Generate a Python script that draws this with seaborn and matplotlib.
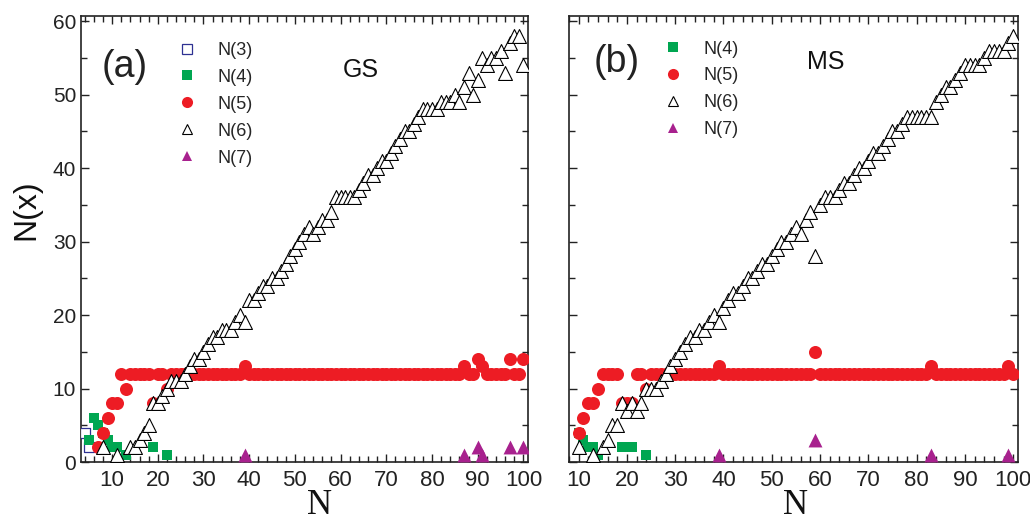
import matplotlib
matplotlib.use("Agg")
import matplotlib.pyplot as plt
import seaborn as sns
import pandas as pd
from matplotlib.ticker import MultipleLocator
from matplotlib.lines import Line2D

# ---------------- GS (ground state) ----------------
gs_n3_N = [4, 5]
gs_n3 = [4, 2]

gs_n4_N = [5, 6, 7, 8, 9, 10, 11, 13, 19, 22]
gs_n4 = [3, 6, 5, 4, 3, 2, 2, 1, 2, 1]

gs_n5_N = list(range(7, 101))
gs_n5 = [2, 4, 6, 8,
         8, 12, 10, 12, 12, 12, 12, 12, 8, 12,
         12, 10, 12, 12, 12, 12, 12, 12, 12, 12,
         12, 12, 12, 12, 12, 12, 12, 12, 13, 12,
         12, 12, 12, 12, 12, 12, 12, 12, 12, 12,
         12, 12, 12, 12, 12, 12, 12, 12, 12, 12,
         12, 12, 12, 12, 12, 12, 12, 12, 12, 12,
         12, 12, 12, 12, 12, 12, 12, 12, 12, 12,
         12, 12, 12, 12, 12, 12, 13, 12, 12, 14,
         13, 12, 12, 12, 12, 12, 14, 12, 12, 14]

gs_n6_N = [8, 11, 14, 15, 16, 17, 18, 19, 20,
           21, 22, 23, 24, 25, 26, 27, 28, 29, 30,
           31, 32, 33, 34, 35, 36, 37, 38, 39, 40,
           41, 42, 43, 44, 45, 46, 47, 48, 49, 50,
           51, 52, 53, 54, 55, 56, 57, 58, 59, 60,
           61, 62, 63, 64, 65, 66, 67, 68, 69, 70,
           71, 72, 73, 74, 75, 76, 77, 78, 79, 80,
           81, 82, 83, 84, 85, 86, 87, 88, 89, 90,
           91, 92, 93, 94, 95, 96, 97, 98, 99, 100]
gs_n6 = [2, 1, 2, 2, 3, 4, 5, 8, 8,
         9, 10, 11, 11, 11, 12, 13, 14, 14, 15,
         16, 17, 17, 18, 18, 18, 19, 20, 19, 22,
         22, 23, 24, 24, 25, 25, 26, 27, 28, 29,
         30, 31, 32, 31, 32, 33, 33, 34, 36, 36,
         36, 36, 36, 37, 38, 39, 39, 40, 41, 41,
         42, 43, 44, 45, 45, 46, 47, 48, 48, 48,
         48, 49, 49, 49, 50, 49, 51, 53, 50, 52,
         55, 54, 55, 55, 56, 53, 57, 58, 58, 54]

gs_n7_N = [39, 87, 90, 91, 97, 100]
gs_n7 = [1, 1, 2, 1, 2, 2]

# ---------------- MS (metastable state) ----------------
ms_n4_N = [10, 11, 12, 13, 14, 19, 20, 21, 24]
ms_n4 = [4, 3, 2, 2, 1, 2, 2, 2, 1]

ms_n5_N = list(range(10, 101))
ms_n5 = [4,
         6, 8, 8, 10, 12, 12, 12, 12, 8, 8,
         8, 12, 12, 10, 12, 12, 12, 12, 12, 12,
         12, 12, 12, 12, 12, 12, 12, 12, 13, 12,
         12, 12, 12, 12, 12, 12, 12, 12, 12, 12,
         12, 12, 12, 12, 12, 12, 12, 12, 15, 12,
         12, 12, 12, 12, 12, 12, 12, 12, 12, 12,
         12, 12, 12, 12, 12, 12, 12, 12, 12, 12,
         12, 12, 13, 12, 12, 12, 12, 12, 12, 12,
         12, 12, 12, 12, 12, 12, 12, 12, 13, 12]

ms_n6_N = [10, 13, 15, 16, 17, 18, 19, 20,
           21, 22, 23, 24, 25, 26, 27, 28, 29, 30,
           31, 32, 33, 34, 35, 36, 37, 38, 39, 40,
           41, 42, 43, 44, 45, 46, 47, 48, 49, 50,
           51, 52, 53, 54, 55, 56, 57, 58, 59, 60,
           61, 62, 63, 64, 65, 66, 67, 68, 69, 70,
           71, 72, 73, 74, 75, 76, 77, 78, 79, 80,
           81, 82, 83, 84, 85, 86, 87, 88, 89, 90,
           91, 92, 93, 94, 95, 96, 97, 98, 99, 100]
ms_n6 = [2, 1, 2, 3, 5, 5, 8, 7,
         8, 7, 8, 10, 10, 10, 11, 12, 13, 14,
         15, 16, 17, 17, 18, 18, 19, 20, 19, 21,
         22, 23, 23, 24, 25, 25, 26, 27, 27, 28,
         29, 30, 30, 31, 32, 31, 33, 34, 28, 35,
         36, 36, 36, 37, 38, 38, 39, 40, 40, 41,
         42, 42, 43, 44, 45, 45, 46, 47, 47, 47,
         47, 47, 47, 49, 50, 51, 51, 52, 53, 54,
         54, 54, 54, 55, 56, 56, 56, 56, 57, 58]

ms_n7_N = [39, 59, 83, 99]
ms_n7 = [1, 3, 1, 1]

# ---------------- styling ----------------
C_BLUE = "#2e3192"
C_GREEN = "#00a651"
C_RED = "#ed1c24"
C_PURPLE = "#a8218e"

styles = {
    "N(3)": dict(marker="s", s=62, facecolor="white", edgecolor=C_BLUE, linewidth=0.9),
    "N(4)": dict(marker="s", s=62, color=C_GREEN, linewidth=0),
    "N(5)": dict(marker="o", s=88, color=C_RED, linewidth=0),
    "N(6)": dict(marker="^", s=100, facecolor="white", edgecolor="black", linewidth=0.8),
    "N(7)": dict(marker="^", s=100, color=C_PURPLE, linewidth=0),
}

sns.set_theme(style="ticks")
plt.rcParams["font.family"] = ["Liberation Sans", "DejaVu Sans"]

fig = plt.figure(figsize=(10.3, 5.23), dpi=100)
ax_a = fig.add_axes([81 / 1030, 1 - 462 / 523, 447 / 1030, 446 / 523])
ax_b = fig.add_axes([569 / 1030, 1 - 462 / 523, 449 / 1030, 446 / 523])


def draw(ax, series):
    for name, xs, ys in series:
        df = pd.DataFrame({"N": xs, "v": ys})
        sns.scatterplot(data=df, x="N", y="v", ax=ax, legend=False,
                        zorder=3, clip_on=True, **styles[name])


draw(ax_a, [("N(3)", gs_n3_N, gs_n3), ("N(4)", gs_n4_N, gs_n4),
            ("N(5)", gs_n5_N, gs_n5), ("N(6)", gs_n6_N, gs_n6),
            ("N(7)", gs_n7_N, gs_n7)])
draw(ax_b, [("N(4)", ms_n4_N, ms_n4), ("N(5)", ms_n5_N, ms_n5),
            ("N(6)", ms_n6_N, ms_n6), ("N(7)", ms_n7_N, ms_n7)])

ax_a.set_xlim(3.2, 101)
ax_b.set_xlim(8, 101)

for ax in (ax_a, ax_b):
    ax.set_ylim(0, 60.7)
    ax.xaxis.set_major_locator(MultipleLocator(10))
    ax.xaxis.set_minor_locator(MultipleLocator(2))
    ax.yaxis.set_major_locator(MultipleLocator(10))
    ax.yaxis.set_minor_locator(MultipleLocator(5))
    ax.tick_params(which="both", direction="in", top=True, right=True,
                   color="#222222", width=1.0)
    ax.tick_params(which="major", length=6)
    ax.tick_params(which="minor", length=4)
    ax.tick_params(axis="x", which="major", pad=6)
    for sp in ax.spines.values():
        sp.set_linewidth(1.2)
        sp.set_color("#222222")
    ax.set_xlabel("")
    ax.set_ylabel("")
    for lab in ax.get_xticklabels():
        lab.set_family(["Liberation Sans Narrow", "Liberation Sans"])
        lab.set_fontsize(16)
        lab.set_color("#222222")
    for lab in ax.get_yticklabels():
        lab.set_fontsize(15)
        lab.set_color("#222222")

ax_b.tick_params(axis="y", labelleft=False)

# axis titles
ax_a.set_ylabel("N(x)", fontsize=23, color="#111111")
ax_a.yaxis.set_label_coords(-0.088, 0.565)
# the "N" titles sit in the gap between two tick labels
for xc in (319, 796):
    fig.text(xc / 1030, 1 - 514 / 523, "N", fontfamily="Liberation Serif",
             fontsize=25, color="#111111", ha="center", va="baseline")

# panel marks and state names
ax_a.text(0.098, 0.885, "(a)", transform=ax_a.transAxes, fontsize=27,
          ha="center", va="center", color="#222222")
ax_a.text(0.626, 0.878, "GS", transform=ax_a.transAxes, fontsize=18,
          ha="center", va="center", color="#111111")
ax_b.text(0.107, 0.896, "(b)", transform=ax_b.transAxes, fontsize=27,
          ha="center", va="center", color="#222222")
ax_b.text(0.572, 0.896, "MS", transform=ax_b.transAxes, fontsize=18,
          ha="center", va="center", color="#111111")


def legend(ax, names, anchor):
    handles = []
    for n in names:
        st = styles[n]
        fc = st.get("facecolor", st.get("color"))
        ec = st.get("edgecolor", st.get("color"))
        ms = 7 if st["marker"] != "o" else 8
        handles.append(Line2D([], [], linestyle="none", marker=st["marker"],
                              markersize=ms, markerfacecolor=fc,
                              markeredgecolor=ec,
                              markeredgewidth=st.get("linewidth", 0) or 0.0,
                              label=n))
    ax.legend(handles=handles, loc="upper left", bbox_to_anchor=anchor,
              frameon=False, fontsize=13, handlelength=1.0,
              handletextpad=1.2, labelspacing=0.55, borderpad=0,
              borderaxespad=0)


legend(ax_a, ["N(3)", "N(4)", "N(5)", "N(6)", "N(7)"], (0.216, 0.942))
legend(ax_b, ["N(4)", "N(5)", "N(6)", "N(7)"], (0.211, 0.945))

fig.savefig("out.png", dpi=100)
